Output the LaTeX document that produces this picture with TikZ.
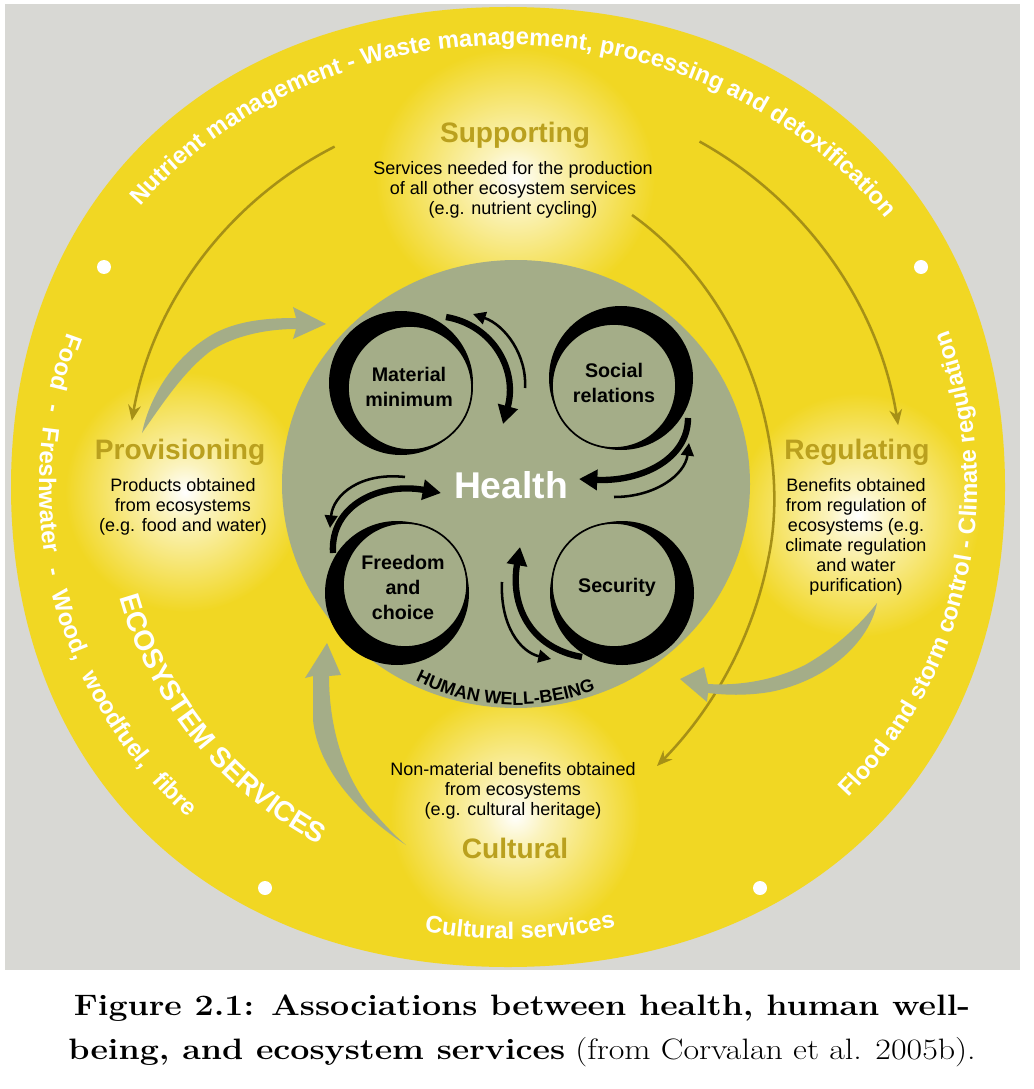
\documentclass[tikz,border=0pt]{standalone}
\usepackage{fontspec}
\setsansfont{Liberation Sans}
\usepackage{tikz}
\usetikzlibrary{
    arrows.meta,
    decorations.text
}
\definecolor{bggrey}{RGB}{216,216,212}
\definecolor{esyellow}{RGB}{241,215,35}
\definecolor{sage}{RGB}{164,173,136}
\definecolor{olive}{RGB}{186,160,30}
\definecolor{oliveline}{RGB}{166,144,22}
\colorlet{glowmid}{esyellow!30!white}
\pgfdeclareradialshading{glow}{\pgfpoint{0bp}{0bp}}{%
  color(0bp)=(white); color(6bp)=(glowmid); color(25bp)=(esyellow);
  color(50bp)=(esyellow)}
\newcommand{\rimfont}{\sffamily\bfseries\fontsize{17}{17}\selectfont}
\tikzset{
  head/.style    = {font=\sffamily\bfseries\fontsize{20}{24}\selectfont,
                    text=olive, inner sep=0pt},
  desc/.style    = {font=\sffamily\fontsize{12.8}{14.2}\selectfont,
                    align=center, inner sep=0pt},
  ringlbl/.style = {font=\sffamily\bfseries\fontsize{14}{17.8}\selectfont,
                    align=center, inner sep=0pt},
  rimtext/.style = {decorate, decoration={text along path, text color=white,
                    text align={fit to path stretching spaces}, text={#1}}},
  arctext/.style = {decorate, decoration={text along path,
                    text align=center, text={#1}}}
}

\begin{document}
\begin{tikzpicture}[
  x=0.025cm, y=-0.025cm,
  svcarr/.style={oliveline, line width=1.8pt, -{Stealth[length=11pt,width=9pt]}},
  thickarr/.style={line width=4.5pt, -{Triangle[length=13pt,width=14pt]}},
  thinarr/.style={line width=1.8pt, -{Triangle[length=9pt,width=9pt]}},
  caption/.style={align=center, inner sep=0pt, xscale=1.15,
                  font=\fontsize{21}{31}\selectfont}
]
\useasboundingbox (0,0) rectangle (1033,1089);
\fill[white] (0,0) rectangle (1033,1089);
\fill[bggrey] (5,4) rectangle (1020,970);

%% Ecosystem services disc
\fill[esyellow] (508,7) .. controls (806,7) and (1005,199) .. (1005,487)
  .. controls (1005,775) and (806,967) .. (508,967)
  .. controls (210,967) and (11,775) .. (11,487)
  .. controls (11,199) and (210,7) .. cycle;

%% Glows behind the four service groups
\shade[shading=glow] (515,178) ellipse[x radius=140, y radius=130];
\shade[shading=glow] (185,492) circle[radius=120];
\shade[shading=glow] (858,515) circle[radius=122];
\shade[shading=glow] (515,815) circle[radius=125];

%% Rim dots
\foreach \px/\py in {104/267, 921/267, 265/888, 760/888}
  \fill[white] (\px,\py) circle[radius=7];

%% Rim texts
\path[arctext={|\rimfont|Nutrient management - Waste management, processing and detoxification}, decoration={text color=white}]
  (508,487) ++(-152:476 and 442) arc[start angle=-152, end angle=-26, x radius=476, y radius=442];
\path[arctext={|\rimfont|Flood and storm control - Climate regulation}, decoration={text color=white}]
  (508,487) ++(56:469 and 452) arc[start angle=56, end angle=-33, x radius=469, y radius=452];
\path[rimtext={|\rimfont|Food - Freshwater - Wood, woodfuel, fibre}]
  (508,487) ++(200:469 and 452) arc[start angle=200, end angle=133, x radius=469, y radius=452];
\path[arctext={|\rimfont|Cultural services}, decoration={text color=white}]
  (508,487) ++(104:469 and 452) arc[start angle=104, end angle=73, x radius=469, y radius=452];
\path[arctext={|\sffamily\bfseries\fontsize{20}{20}\selectfont|ECOSYSTEM SERVICES}, decoration={text color=white}]
  (508,487) ++(165:404) arc[start angle=165, end angle=117, radius=404];

%% Service flows
\draw[svcarr] (508,487) ++(-117:382) arc[start angle=-117, end angle=-170, radius=382];
\draw[svcarr] (508,487) ++(-61:395) arc[start angle=-61, end angle=-9, radius=395];
\draw[svcarr] (632,215) .. controls (748,298) and (792,450) .. (768,560)
  .. controls (752,640) and (712,710) .. (657,766);

%% Benefit arrows towards well-being
\fill[sage] (142,433) .. controls (150,395) and (175,355) .. (215,333)
  .. controls (240,320) and (270,318) .. (296,318) -- (293,307) -- (326,324)
  -- (293,339) -- (296,329) .. controls (265,329) and (235,336) .. (212,350)
  .. controls (185,370) and (165,400) .. cycle;
\fill[sage] (877,603) .. controls (870,640) and (830,680) .. (770,692)
  .. controls (745,696) and (725,695) .. (708,693) -- (707,702) -- (680,679)
  -- (704,667) -- (708,684) .. controls (740,686) and (775,680) .. (805,665)
  .. controls (835,648) and (860,625) .. cycle;
\fill[sage] (406,845) .. controls (360,815) and (318,770) .. (313,720)
  -- (313,676) -- (305,678) -- (327,643) -- (341,675) -- (329,676)
  .. controls (329,720) and (340,770) .. (370,808)
  .. controls (384,824) and (395,836) .. cycle;

%% Human well-being
\fill[sage] (516,484) ellipse[x radius=234, y radius=224];
\foreach \cx/\cy/\ox/\oy in {410/388/-9/-5, 614/386/7/-8, 405/585/-8/8, 614/585/8/8} {
  \fill[black] (\cx+\ox,\cy+\oy) circle[radius=72];
  \fill[sage] (\cx,\cy) circle[radius=62];
  \draw[black, line width=1.2pt] (\cx,\cy) circle[radius=62];
}
\node[ringlbl] (matmin) at (409,387) {Material\\minimum};
\node[ringlbl] (socrel) at (614,383) {Social\\relations};
\node[ringlbl] (freech) at (403,587) {Freedom\\and\\choice};
\node[ringlbl] (secur)  at (617,587) {Security};
\node[font=\sffamily\bfseries\fontsize{26.5}{30}\selectfont, text=white, inner sep=0pt]
  (health) at (511,485) {Health};

%% Links between constituents
\draw[thickarr] (446,317) .. controls (493,325) and (518,370) .. (503,424);
\draw[thinarr]  (525,388) .. controls (527,355) and (505,325) .. (473,314);
\draw[thickarr] (688,418) .. controls (688,460) and (640,482) .. (579,479);
\draw[thinarr]  (614,497) .. controls (655,497) and (685,475) .. (689,443);
\draw[thickarr] (333,553) .. controls (330,505) and (380,482) .. (441,493);
\draw[thinarr]  (405,477) .. controls (360,472) and (333,495) .. (330,528);
\draw[thickarr] (582,657) .. controls (530,648) and (510,605) .. (520,547);
\draw[thinarr]  (502,582) .. controls (500,625) and (520,652) .. (551,659);

\path[arctext={|\sffamily\bfseries\fontsize{12.8}{12.8}\selectfont|HUMAN WELL-BEING}]
  (516,484) ++(121:221) arc[start angle=121, end angle=65, radius=221];

%% Service groups
\node[head] (supH) at (515,135) {Supporting};
\node[desc] (supD) at (513,190) {Services needed for the production\\of all other ecosystem services\\(e.g. nutrient cycling)};
\node[head] (proH) at (180,452) {Provisioning};
\node[desc] (proD) at (183,507) {Products obtained\\from ecosystems\\(e.g. food and water)};
\node[head] (regH) at (857,452) {Regulating};
\node[desc] (regD) at (856,537) {Benefits obtained\\from regulation of\\ecosystems (e.g.\\climate regulation\\and water\\purification)};
\node[desc] (culD) at (513,791) {Non-material benefits obtained\\from ecosystems\\(e.g. cultural heritage)};
\node[head] (culH) at (515,848) {Cultural};

%% Caption
\node[caption] (fig) at (522,1031) {\textbf{Figure 2.1: Associations between health, human well-}\\
  \textbf{being, and ecosystem services} (from Corvalan et al. 2005b).};

\end{tikzpicture}
\end{document}
